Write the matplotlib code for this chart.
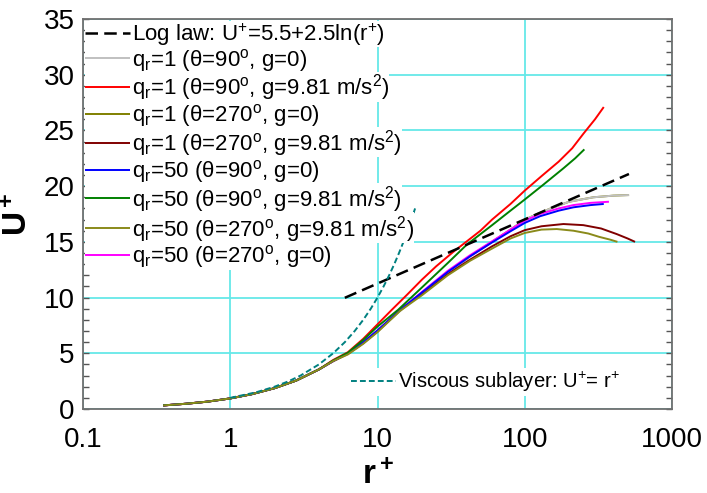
import matplotlib
matplotlib.use('Agg')
import matplotlib.pyplot as plt
from matplotlib.patches import Rectangle
from matplotlib.transforms import IdentityTransform
from matplotlib.ticker import FixedLocator, NullLocator, MultipleLocator, FixedFormatter

plt.rcParams['font.family'] = ['Liberation Sans', 'DejaVu Sans']
plt.rcParams['mathtext.fontset'] = 'custom'
plt.rcParams['mathtext.rm'] = 'Liberation Sans'
plt.rcParams['mathtext.it'] = 'Liberation Sans:italic'
plt.rcParams['mathtext.bf'] = 'Liberation Sans:bold'
plt.rcParams['mathtext.sf'] = 'Liberation Sans'

# ---------------- data ----------------
r_inner = [0.35, 0.5, 0.7, 1.0, 1.4, 2.0, 2.8, 4.0]
U_inner = [0.32, 0.47, 0.66, 0.95, 1.33, 1.87, 2.55, 3.55]

r_q1_90_g0 = [5, 6.3, 8, 10, 14.5, 20, 30, 42.5, 60, 80, 100, 127, 150, 200, 292, 400, 511]
U_q1_90_g0 = [4.3, 5.0, 5.95, 7.0, 8.9, 10.4, 12.2, 13.7, 15.0, 16.1, 17.0, 17.6, 18.0, 18.6, 19.0, 19.15, 19.2]

r_q1_90_g = [5, 6.3, 8, 10, 12.5, 16, 20, 25, 32.7, 40, 50, 60, 80, 100, 130, 170, 210, 250, 300, 344]
U_q1_90_g = [4.4, 5.1, 6.3, 7.6, 8.9, 10.3, 11.6, 12.8, 14.1, 15.0, 16.0, 17.0, 18.4, 19.6, 20.9, 22.2, 23.4, 24.7, 26.0, 27.1]

r_q1_270_g0 = [5, 6.3, 8, 10, 14.5, 20, 30, 42.5, 60, 80, 100, 127, 150, 200, 292, 400, 511]
U_q1_270_g0 = [4.3, 5.0, 5.95, 7.0, 8.9, 10.4, 12.2, 13.7, 15.0, 16.1, 17.0, 17.6, 18.0, 18.6, 19.0, 19.15, 19.2]

r_q1_270_g = [5, 6.3, 8, 10, 14.2, 20, 30, 42.5, 60, 80, 100, 130, 183, 250, 330, 421, 500, 561]
U_q1_270_g = [4.3, 4.95, 5.9, 6.95, 8.9, 10.3, 12.1, 13.4, 14.6, 15.5, 16.05, 16.4, 16.6, 16.5, 16.2, 15.7, 15.3, 15.0]

r_q50_90_g0 = [5, 6.3, 8, 10, 14.3, 20, 30, 42.5, 60, 80, 100, 127, 170, 214, 280, 344]
U_q50_90_g0 = [4.3, 5.0, 6.0, 7.05, 8.9, 10.45, 12.3, 13.7, 14.95, 15.95, 16.7, 17.3, 17.8, 18.1, 18.3, 18.4]

r_q50_90_g = [5, 6.3, 8, 10, 13.8, 20, 30, 40.4, 60, 80, 100, 130, 183, 220, 254]
U_q50_90_g = [4.35, 5.05, 6.2, 7.4, 8.9, 10.9, 13.1, 14.75, 16.5, 17.8, 18.8, 20.0, 21.6, 22.5, 23.3]

r_q50_270_g = [5, 6.3, 8, 10, 14.2, 20, 30, 42.5, 60, 80, 100, 130, 165, 214, 270, 320, 380, 426]
U_q50_270_g = [4.3, 4.9, 5.85, 6.9, 8.8, 10.2, 12.0, 13.3, 14.4, 15.3, 15.8, 16.1, 16.15, 16.0, 15.75, 15.45, 15.2, 15.0]

r_q50_270_g0 = [5, 6.3, 8, 10, 14.3, 20, 30, 42.5, 60, 80, 100, 127, 170, 214, 280, 373]
U_q50_270_g0 = [4.3, 5.0, 6.0, 7.05, 8.9, 10.5, 12.4, 13.8, 15.05, 16.1, 16.9, 17.5, 18.0, 18.3, 18.5, 18.6]

r_log = [6.0, 510]
U_log = [9.98, 21.09]

r_visc = [1, 1.5, 2, 2.5, 3, 4, 5, 6, 7, 8, 9, 10, 11, 12, 13, 14, 15, 16, 17, 18]
U_visc = [1, 1.5, 2, 2.5, 3, 4, 5, 6, 7, 8, 9, 10, 11, 12, 13, 14, 15, 16, 17, 18]

x_ticks = [0.1, 1, 10, 100, 1000]
x_labels = ['0.1', '1', '10', '100', '1000']
y_ticks = [0, 5, 10, 15, 20, 25, 30, 35]

labels = [
    'Log law: U$^\\mathregular{+}$=5.5+2.5ln(r$^\\mathregular{+}$)',
    'q$_\\mathregular{r}$=1 (θ=90$^\\mathregular{o}$, g=0)',
    'q$_\\mathregular{r}$=1 (θ=90$^\\mathregular{o}$, g=9.81 m/s$^\\mathregular{2}$)',
    'q$_\\mathregular{r}$=1 (θ=270$^\\mathregular{o}$, g=0)',
    'q$_\\mathregular{r}$=1 (θ=270$^\\mathregular{o}$, g=9.81 m/s$^\\mathregular{2}$)',
    'q$_\\mathregular{r}$=50 (θ=90$^\\mathregular{o}$, g=0)',
    'q$_\\mathregular{r}$=50 (θ=90$^\\mathregular{o}$, g=9.81 m/s$^\\mathregular{2}$)',
    'q$_\\mathregular{r}$=50 (θ=270$^\\mathregular{o}$, g=9.81 m/s$^\\mathregular{2}$)',
    'q$_\\mathregular{r}$=50 (θ=270$^\\mathregular{o}$, g=0)',
]
visc_label = 'Viscous sublayer: U$^\\mathregular{+}$= r$^\\mathregular{+}$'

# ---------------- figure ----------------
fig = plt.figure(figsize=(7.07, 4.93), dpi=100)
ax = fig.add_axes([83/707, 1-409/493, 589/707, 390/493])
ax.set_xscale('log')

lw = 1.4
series = [
    (r_q1_270_g0, U_q1_270_g0, '#808000', 2.0),
    (r_q1_90_g0, U_q1_90_g0, '#C0C0C0', 2.1),
    (r_q1_90_g, U_q1_90_g, '#FF0000', 2.2),
    (r_q1_270_g, U_q1_270_g, '#800000', 2.2),
    (r_q50_90_g0, U_q50_90_g0, '#0000FF', 2.3),
    (r_q50_90_g, U_q50_90_g, '#008000', 2.3),
    (r_q50_270_g, U_q50_270_g, '#8A8A1A', 2.3),
    (r_q50_270_g0, U_q50_270_g0, '#FF00FF', 2.25),
]
lines = {}
for rr, uu, c, z in series:
    ln, = ax.plot(r_inner + rr, U_inner + uu, color=c, lw=lw, zorder=z, solid_capstyle='butt')
    lines[c] = ln

ln_log, = ax.plot(r_log, U_log, color='black', lw=1.8, ls=(0, (5, 2.5)), zorder=3)
ln_visc, = ax.plot(r_visc, U_visc, color='#008080', lw=1.4, ls=(0, (3, 1.6)), zorder=3)

ax.set_xlim(0.1, 1000)
ax.set_ylim(0, 35)
ax.xaxis.set_major_locator(FixedLocator(x_ticks))
ax.xaxis.set_major_formatter(FixedFormatter(x_labels))
ax.xaxis.set_minor_locator(NullLocator())
ax.yaxis.set_major_locator(FixedLocator(y_ticks))
ax.yaxis.set_minor_locator(MultipleLocator(1))

ax.grid(True, which='major', color='#66E8E8', lw=1.3, zorder=0)
ax.set_axisbelow(True)
ax.tick_params(axis='both', which='major', labelsize=20, direction='in', length=0)
ax.tick_params(axis='x', which='major', pad=13)
ax.tick_params(axis='y', which='both', direction='in', left=True, right=True, color='#555555', width=1.0)
ax.tick_params(axis='y', which='minor', length=4)
ax.tick_params(axis='y', which='major', length=4, pad=6)
for s in ax.spines.values():
    s.set_color('#707070')
    s.set_linewidth(1.3)

ax.set_xlabel('$\\mathbf{r^+}$', fontsize=24, labelpad=5)
ax.set_ylabel('$\\mathbf{U^+}$', fontsize=24, labelpad=7)

handles = [ln_log, lines['#C0C0C0'], lines['#FF0000'], lines['#808000'], lines['#800000'],
           lines['#0000FF'], lines['#008000'], lines['#8A8A1A'], lines['#FF00FF']]
leg = ax.legend(handles, labels, loc='upper left', bbox_to_anchor=(0.0, 1.0), fontsize=16,
                frameon=False, handlelength=2.0, handletextpad=0.1, labelspacing=-0.05,
                borderpad=0.0, borderaxespad=0.1)
leg.set_zorder(5)
ax.add_artist(leg)

leg2 = ax.legend([ln_visc], [visc_label], loc='center left', bbox_to_anchor=(0.451, 0.069),
                 fontsize=14.6, frameon=True, facecolor='white', edgecolor='none', framealpha=1.0,
                 fancybox=False, handlelength=2.25, handletextpad=0.1, borderpad=0.1,
                 borderaxespad=0.0)
leg2.set_zorder(5)

# white background behind each legend row (sized to that row's text)
fig.canvas.draw()
renderer = fig.canvas.get_renderer()
lb = leg.get_window_extent(renderer)
row_lines = leg.get_lines()
row_texts = leg.get_texts()
centers = []
for hl in row_lines:
    e = hl.get_window_extent(renderer)
    centers.append(0.5 * (e.y0 + e.y1))
ov = 1
for i, t in enumerate(row_texts):
    tb = t.get_window_extent(renderer)
    top = lb.y1 if i == 0 else 0.5 * (centers[i - 1] + centers[i]) + ov
    bot = lb.y0 if i == len(row_texts) - 1 else 0.5 * (centers[i] + centers[i + 1]) - ov
    rect = Rectangle((lb.x0, bot), tb.x1 - lb.x0, top - bot, transform=IdentityTransform(),
                     facecolor='white', edgecolor='none', zorder=4.5, clip_on=False)
    ax.add_artist(rect)

fig.savefig('out.png', dpi=100)
